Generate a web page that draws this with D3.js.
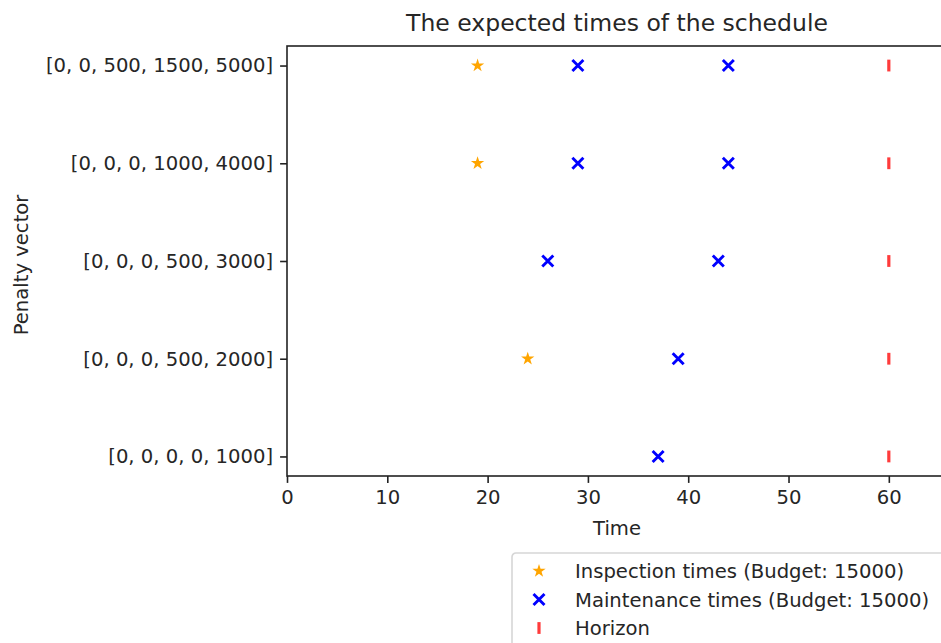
<!DOCTYPE html>
<html lang="en">
<head>
    <meta charset="UTF-8">
    <title>The expected times of the schedule</title>
    <script src="https://d3js.org/d3.v7.min.js"></script>
</head>

<style>
  body {
    margin: 0;
    background: white;
  }
  .chart {
    display: block;
    font-family: "DejaVu Sans", sans-serif;
  }
</style>

<body>
  <svg class="chart" width="941" height="643"></svg>

<script>
// penalty vectors, from bottom row to top row
var penalties = [
  "[0, 0, 0, 0, 1000]",
  "[0, 0, 0, 500, 2000]",
  "[0, 0, 0, 500, 3000]",
  "[0, 0, 0, 1000, 4000]",
  "[0, 0, 500, 1500, 5000]"
]

// expected times per penalty vector (same order as above)
var inspectionTimes = [[], [24], [], [19], [19]]
var maintenanceTimes = [[37], [39], [26, 43], [29, 44], [29, 44]]
var horizonTimes = [60, 60, 60, 60, 60]

var xTicks = [0, 10, 20, 30, 40, 50, 60]
var budget = 15000

var margin = {top: 46, right: -6, bottom: 167, left: 287},
  width = 941 - margin.left - margin.right,
  height = 643 - margin.top - margin.bottom;

var tickFont = 19.6

var svg = d3.select(".chart")
  .append("g")
  .attr("transform", "translate(" + margin.left + "," + margin.top + ")")

var x = d3.scaleLinear()
  .domain([0, 65.8])
  .range([0, width])

var y = d3.scalePoint()
  .domain(penalties)
  .range([height, 0])
  .padding(0.2)

// axes
var xAxis = svg.append("g")
  .attr("transform", "translate(0," + height + ")")
  .call(d3.axisBottom(x).tickValues(xTicks).tickSize(6.9).tickPadding(7.5))

var yAxis = svg.append("g")
  .call(d3.axisLeft(y).tickSize(6.9).tickPadding(7))

svg.selectAll(".tick text")
  .attr("font-family", "DejaVu Sans")
  .attr("font-size", tickFont)
  .attr("fill", "#262626")
svg.selectAll(".tick line").attr("stroke", "#222").attr("stroke-width", 1.6)
svg.selectAll(".domain").remove()

// frame around the plot
svg.append("rect")
  .attr("x", 0)
  .attr("y", 0)
  .attr("width", width)
  .attr("height", height)
  .attr("fill", "none")
  .attr("stroke", "#222")
  .attr("stroke-width", 1.6)

// marker shapes
function starPath(r) {
  var pts = []
  for (var i = 0; i < 10; i++) {
    var rr = i % 2 ? r * 0.381966 : r
    var a = Math.PI * i / 5
    pts.push([rr * Math.sin(a), -rr * Math.cos(a)])
  }
  return "M" + pts.map(p => p[0].toFixed(2) + "," + p[1].toFixed(2)).join("L") + "Z"
}
var xPath = "M-5.5,-5.5L5.5,5.5M-5.5,5.5L5.5,-5.5"
var barPath = "M0,-5.9V5.9"

function flatten(times) {
  var out = []
  times.forEach((list, i) => list.forEach(t => out.push({t: t, p: penalties[i]})))
  return out
}

var marks = svg.append("g")

marks.selectAll("path.inspection")
  .data(flatten(inspectionTimes))
  .enter()
  .append("path")
  .attr("class", "inspection")
  .attr("d", starPath(7))
  .attr("transform", d => "translate(" + x(d.t) + "," + y(d.p) + ")")
  .attr("fill", "orange")

marks.selectAll("path.maintenance")
  .data(flatten(maintenanceTimes))
  .enter()
  .append("path")
  .attr("class", "maintenance")
  .attr("d", xPath)
  .attr("transform", d => "translate(" + x(d.t) + "," + y(d.p) + ")")
  .attr("stroke", "blue")
  .attr("stroke-width", 2.9)
  .attr("fill", "none")

marks.selectAll("path.horizon")
  .data(horizonTimes.map((t, i) => ({t: t, p: penalties[i]})))
  .enter()
  .append("path")
  .attr("class", "horizon")
  .attr("d", barPath)
  .attr("transform", d => "translate(" + x(d.t) + "," + y(d.p) + ")")
  .attr("stroke", "#ff3b3b")
  .attr("stroke-width", 3.2)

// titles
var root = d3.select(".chart")

root.append("text")
  .attr("x", margin.left + width / 2)
  .attr("y", 31)
  .attr("text-anchor", "middle")
  .attr("font-size", 23.5)
  .attr("fill", "#262626")
  .text("The expected times of the schedule")

root.append("text")
  .attr("x", margin.left + width / 2)
  .attr("y", 535)
  .attr("text-anchor", "middle")
  .attr("font-size", tickFont)
  .attr("fill", "#262626")
  .text("Time")

root.append("text")
  .attr("transform", "translate(28," + (margin.top + height / 2 + 4) + ") rotate(-90)")
  .attr("text-anchor", "middle")
  .attr("font-size", tickFont)
  .attr("fill", "#262626")
  .text("Penalty vector")

// legend below the plot
var legendItems = [
  {label: "Inspection times (Budget: " + budget + ")", kind: "inspection"},
  {label: "Maintenance times (Budget: " + budget + ")", kind: "maintenance"},
  {label: "Horizon", kind: "horizon"}
]

var legend = root.append("g").attr("transform", "translate(512,553)")

legend.append("rect")
  .attr("width", 460)
  .attr("height", 120)
  .attr("rx", 4)
  .attr("fill", "white")
  .attr("stroke", "#d6d6d6")
  .attr("stroke-width", 1.6)

var entry = legend.selectAll("g.legendEntry")
  .data(legendItems)
  .enter()
  .append("g")
  .attr("class", "legendEntry")
  .attr("transform", (d, i) => "translate(0," + (18 + i * 28.5) + ")")

entry.each(function (d) {
  var g = d3.select(this)
  var m = g.append("path").attr("transform", "translate(27,0)")
  if (d.kind == "inspection") {
    m.attr("d", starPath(7)).attr("fill", "orange")
  } else if (d.kind == "maintenance") {
    m.attr("d", xPath).attr("stroke", "blue").attr("stroke-width", 2.9).attr("fill", "none")
  } else {
    m.attr("d", barPath).attr("stroke", "#ff3b3b").attr("stroke-width", 3.2)
  }
})

entry.append("text")
  .attr("x", 63)
  .attr("y", 7)
  .attr("font-size", tickFont)
  .attr("fill", "#262626")
  .text(d => d.label)
</script>
</body>
</html>
